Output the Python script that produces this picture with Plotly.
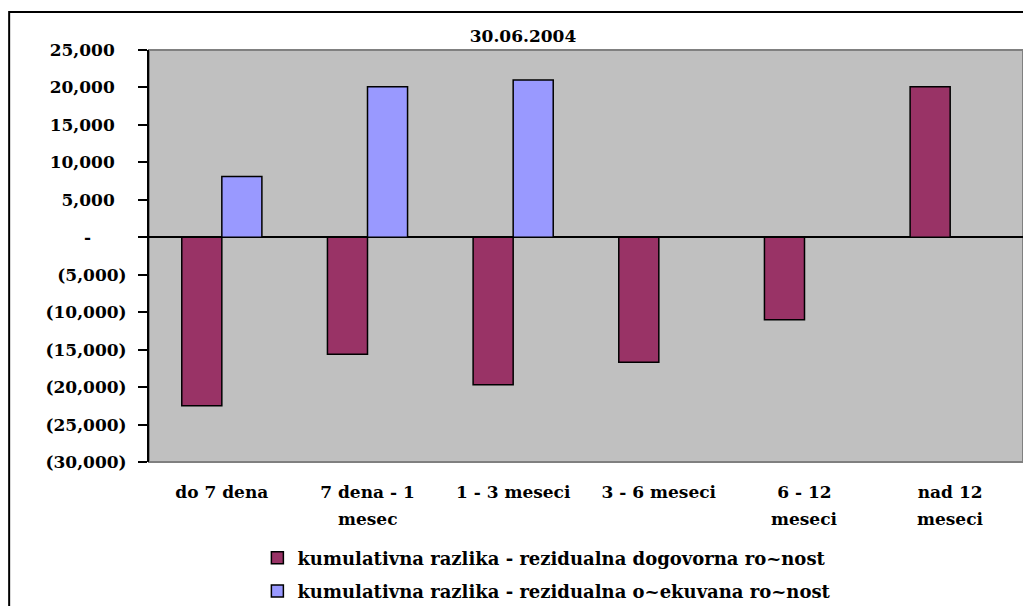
import plotly.graph_objects as go

# categories (two-line labels are split on "|")
categories = ["do 7 dena", "7 dena - 1|mesec", "1 - 3 meseci", "3 - 6 meseci", "6 - 12|meseci", "nad 12|meseci"]
dogovorna = [-22500, -15600, -19700, -16700, -11000, 20100]
ocekivana = [8100, 20100, 21000, None, None, None]

series_names = [
    "kumulativna razlika - rezidualna dogovorna ro~nost",
    "kumulativna razlika - rezidualna o~ekuvana ro~nost",
]
title_text = "30.06.2004"

y_ticks = [25000, 20000, 15000, 10000, 5000, 0, -5000, -10000, -15000, -20000, -25000, -30000]


def fmt(v):
    # accounting style: positives padded, zero as dash, negatives in parentheses
    if v > 0:
        return f"{v:,}" + "\u00a0\u00a0"
    if v == 0:
        return "-" + "\u00a0" * 6
    return f"({-v:,})"


FONT = "DejaVu Serif"
first_line = [c.split("|")[0] for c in categories]
idx = list(range(len(categories)))

# page body adds an 8px margin, so the figure is 8px smaller each way
W, H = 1023, 598

fig = go.Figure()
fig.add_trace(go.Bar(
    x=idx, y=dogovorna, name=series_names[0], legendgroup="a",
    marker=dict(color="#993366", line=dict(color="black", width=1.5)),
))
fig.add_trace(go.Bar(
    x=idx, y=ocekivana, name=series_names[1], legendgroup="b",
    marker=dict(color="#9999FF", line=dict(color="black", width=1.5)),
))

# second lines of the category labels
for i, c in enumerate(categories):
    parts = c.split("|")
    if len(parts) > 1:
        fig.add_annotation(
            x=i, y=-0.138, xref="x", yref="paper", text=parts[1], showarrow=False,
            yanchor="middle", font=dict(family=FONT, size=17, color="black", weight="bold"),
        )

# outer chart frame
fig.add_shape(type="rect", xref="paper", yref="paper", x0=-0.160, x1=1.2, y0=1.092, y1=-0.6,
              line=dict(color="black", width=2), layer="below")
# grey plot-area border
fig.add_shape(type="rect", xref="paper", yref="paper", x0=0, x1=1, y0=0, y1=1,
              line=dict(color="#808080", width=2), layer="below")

fig.update_layout(
    width=W, height=H,
    margin=dict(l=141, r=8, t=42, b=144, autoexpand=False),
    paper_bgcolor="white", plot_bgcolor="#C0C0C0",
    barmode="group", bargap=0.45, bargroupgap=0,
    font=dict(family=FONT, size=17, color="black", weight="bold"),
    title=dict(text=title_text, x=515 / W, xanchor="center",
               y=1 - 28 / H, yanchor="middle",
               font=dict(family=FONT, size=17, color="black", weight="bold")),
    xaxis=dict(
        range=[-0.5, len(categories) - 0.5], tickvals=idx, ticktext=first_line,
        ticks="", showline=False, showgrid=False, zeroline=False,
        ticklabelstandoff=18, automargin=False,
    ),
    xaxis2=dict(
        overlaying="x", anchor="free", position=30000 / 55000,
        range=[-0.5, len(categories) - 0.5],
        tickvals=[i + 0.5 for i in idx], ticks="outside", ticklen=8, tickwidth=2,
        tickcolor="black", showticklabels=False, showline=False, showgrid=False,
        zeroline=False,
    ),
    yaxis=dict(
        range=[-30000, 25000], tickvals=y_ticks, ticktext=[fmt(v) for v in y_ticks],
        ticks="outside", ticklen=9, tickwidth=2, tickcolor="black",
        showline=True, linecolor="black", linewidth=2, showgrid=False,
        zeroline=True, zerolinecolor="black", zerolinewidth=2,
        ticklabelstandoff=8, automargin=False,
    ),
    legend=dict(
        x=0.124, xanchor="left", y=-0.188, yanchor="top",
        traceorder="grouped", tracegroupgap=7,
        font=dict(family=FONT, size=18, color="black", weight="bold"),
        bgcolor="rgba(0,0,0,0)",
    ),
    showlegend=True,
)

fig.write_html("out.html")
